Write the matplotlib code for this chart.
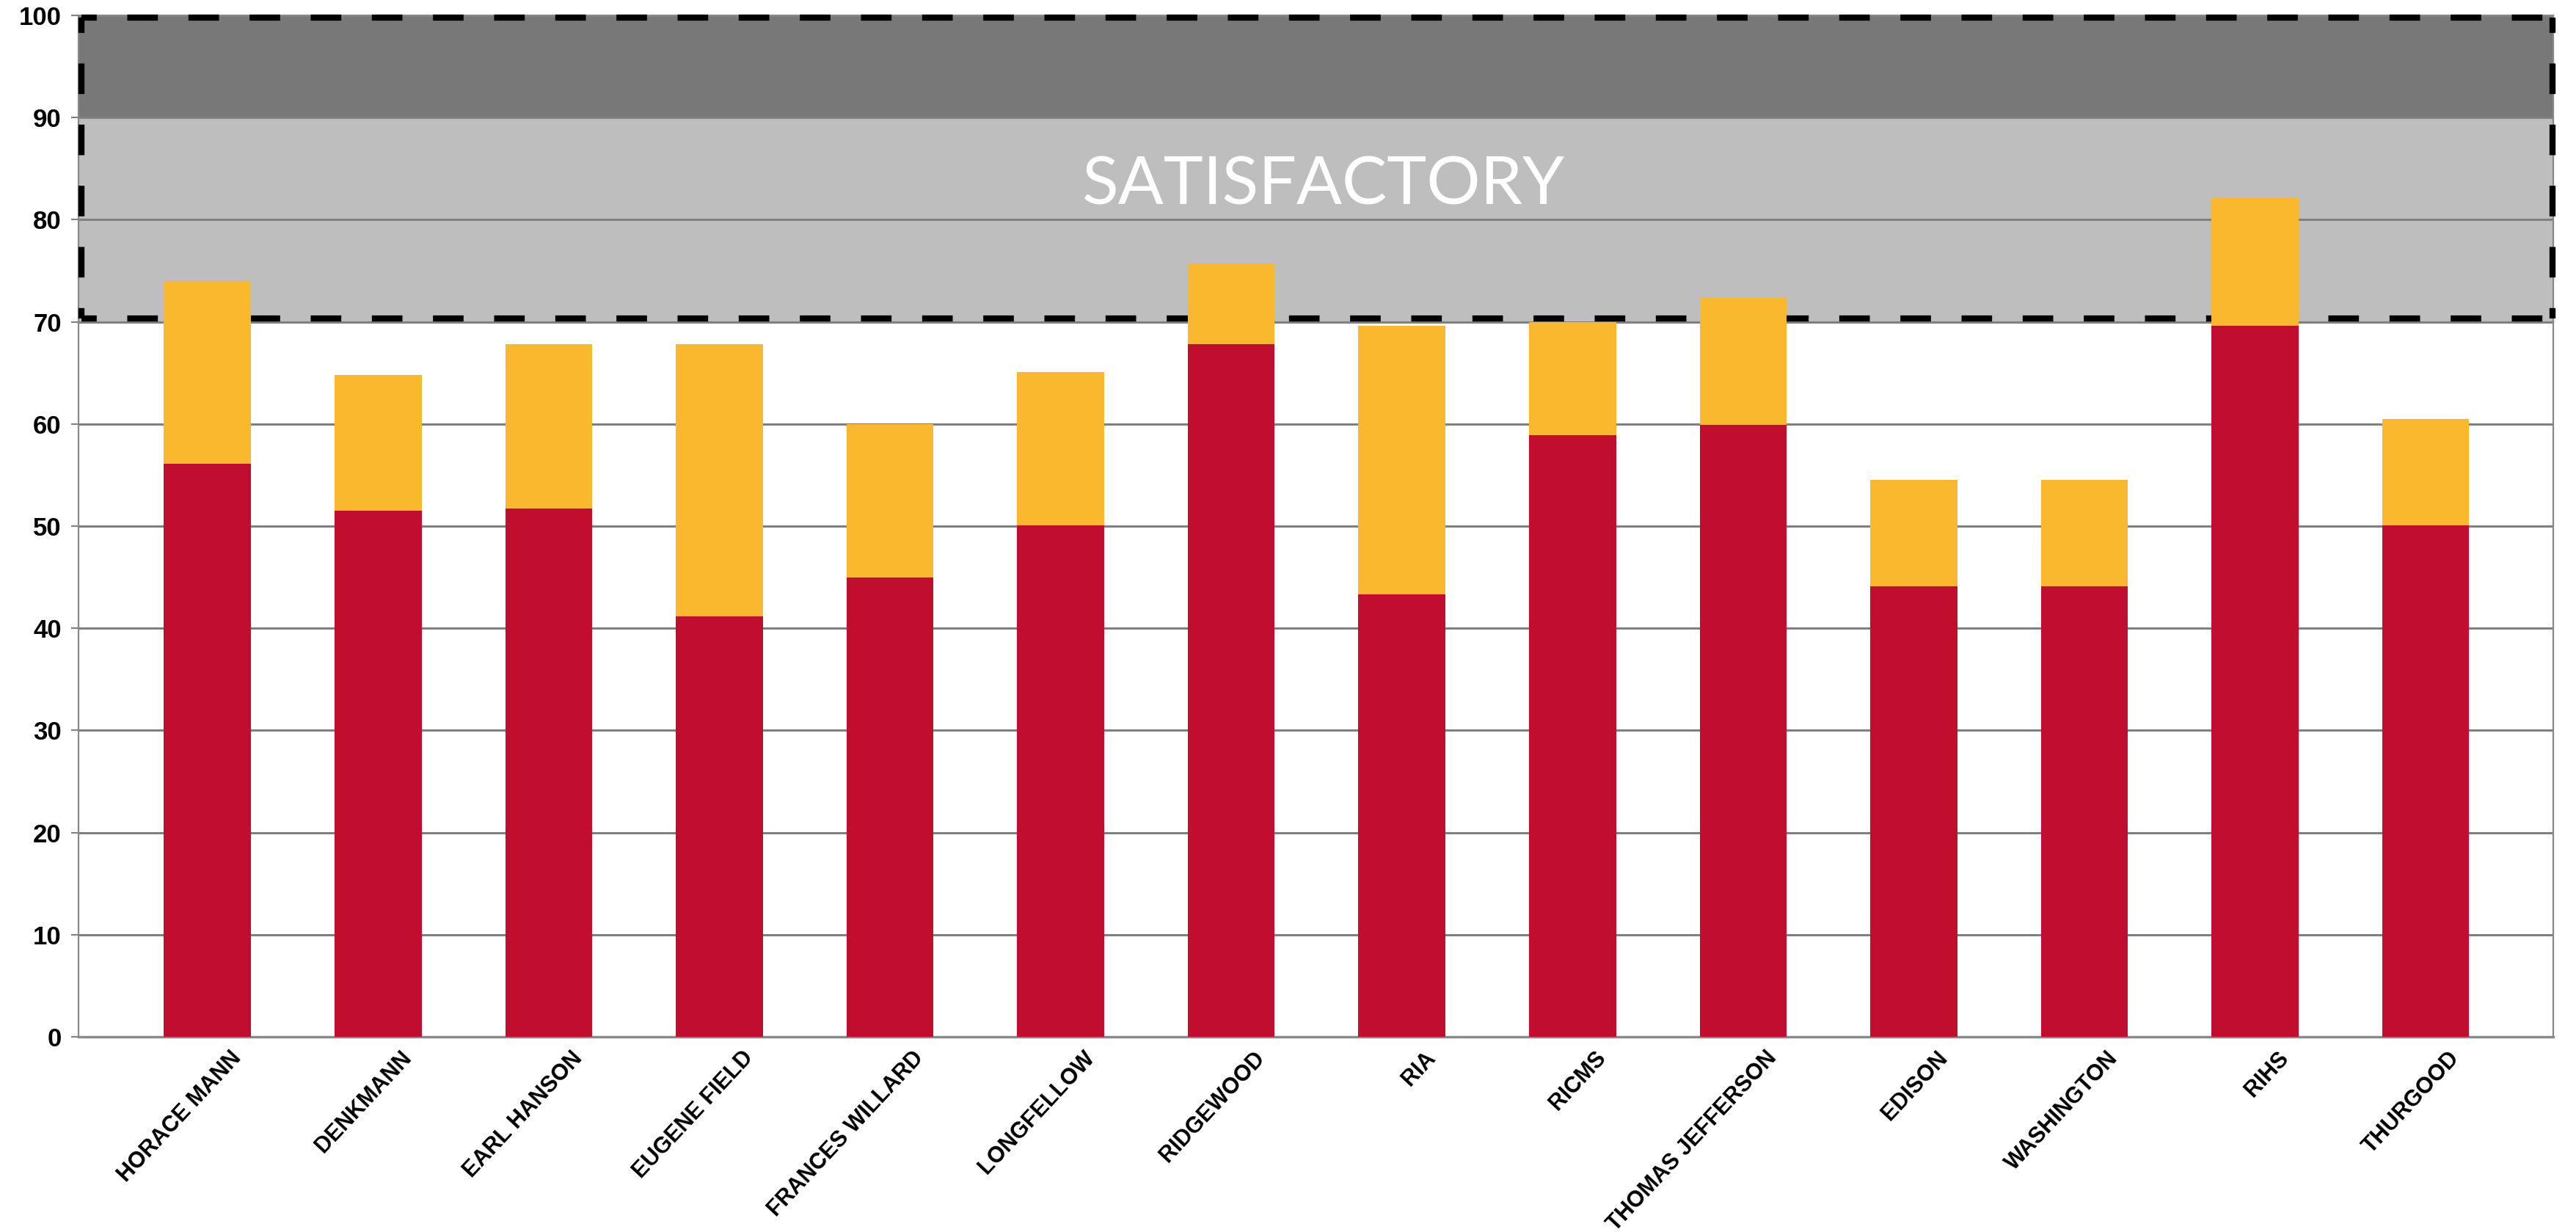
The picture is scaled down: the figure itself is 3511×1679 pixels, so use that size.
import matplotlib
matplotlib.use('Agg')
import matplotlib.pyplot as plt
import matplotlib.transforms as mtransforms
from matplotlib import font_manager
import numpy as np

schools = ["HORACE MANN", "DENKMANN", "EARL HANSON", "EUGENE FIELD", "FRANCES WILLARD",
           "LONGFELLOW", "RIDGEWOOD", "RIA", "RICMS", "THOMAS JEFFERSON",
           "EDISON", "WASHINGTON", "RIHS", "THURGOOD"]
red_part = [56.1, 51.5, 51.7, 41.2, 45.0, 50.1, 67.8, 43.3, 58.9, 59.9, 44.1, 44.1, 69.6, 50.1]
yellow_part = [17.9, 13.3, 16.1, 26.6, 15.0, 15.0, 7.9, 26.3, 11.1, 12.5, 10.4, 10.4, 12.5, 10.4]
yticks = list(range(0, 101, 10))
band_light = (70, 90)
band_dark = (90, 100)
band_label = "SATISFACTORY"

installed = {f.name for f in font_manager.fontManager.ttflist}
# a narrow face for the band label, if there is one
if 'Liberation Sans Narrow' in installed:
    narrow, label_size = 'Liberation Sans Narrow', 73
elif 'DejaVu Sans Condensed' in installed:
    narrow, label_size = 'DejaVu Sans Condensed', 66
else:
    narrow, label_size = 'Lato', 66

RED = '#c20e2e'
YELLOW = '#f9b82d'
GRID = '#808080'

fig = plt.figure(figsize=(35.12, 16.79), dpi=100)
ax = fig.add_axes([0.0305, 0.1584, 0.9604, 0.8291])

x = np.arange(len(schools))
ax.set_xlim(-0.755, 13.748)
ax.set_ylim(0, 100)

# grey target bands
ax.axhspan(*band_light, color='#bebebe', zorder=0, lw=0)
ax.axhspan(*band_dark, color='#787878', zorder=0, lw=0)
ax.set_yticks(yticks)
ax.yaxis.grid(True, color=GRID, lw=2.2, zorder=1)
ax.set_axisbelow(True)

# dashed outline round the band
x0, x1 = ax.get_xlim()
dash = dict(color='black', lw=6, linestyle=(2.5, (5, 5)), clip_on=False, zorder=3,
            solid_capstyle='butt', dash_capstyle='butt')
ax.plot([x0 + 0.015, x1 - 0.005], [99.75, 99.75], **dash)
ax.plot([x0 + 0.015, x1 - 0.005], [70.3, 70.3], **dash)
ax.plot([x0 + 0.015, x0 + 0.015], [99.75, 70.3], **dash)
ax.plot([x1 - 0.005, x1 - 0.005], [99.75, 70.3], **dash)

ax.bar(x, red_part, width=0.51, color=RED, zorder=4)
ax.bar(x, yellow_part, width=0.51, bottom=red_part, color=YELLOW, zorder=4)

ax.text(0.503, 81.5, band_label, transform=ax.get_yaxis_transform(), ha='center',
        va='baseline', color='white', fontsize=label_size, family=narrow, zorder=5)

for side in ['left', 'right', 'bottom', 'top']:
    ax.spines[side].set_color('#888888')
    ax.spines[side].set_linewidth(1.6)
ax.spines['bottom'].set_linewidth(2.4)

ax.tick_params(axis='y', length=7, width=1.5, color=GRID, pad=10, labelsize=25)
for lbl in ax.get_yticklabels():
    lbl.set_fontweight('bold')
    lbl.set_family('Liberation Sans')

ax.set_xticks(x)
ax.set_xticklabels(schools, rotation=47, ha='right', va='top', rotation_mode='anchor',
                   fontsize=22, fontweight='bold', family='Liberation Sans')
ax.tick_params(axis='x', length=0, pad=0)
offset = mtransforms.ScaledTranslation(0.30, -0.14, fig.dpi_scale_trans)
for lbl in ax.get_xticklabels():
    lbl.set_transform(lbl.get_transform() + offset)

fig.savefig('out.png', dpi=100)
plt.close(fig)
